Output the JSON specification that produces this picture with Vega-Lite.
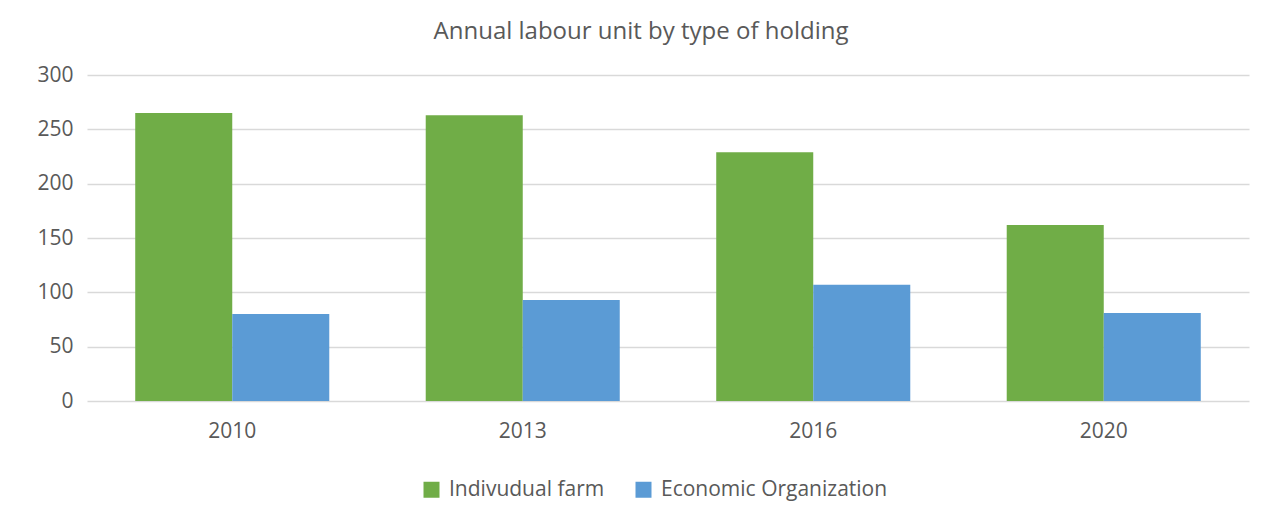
{
  "$schema": "https://vega.github.io/schema/vega-lite/v6.json",
  "autosize": {"type": "none"},
  "width": 1162,
  "height": 326,
  "padding": {"left": 87, "top": 75, "right": 15, "bottom": 121},
  "background": "white",
  "title": {
    "text": "Annual labour unit by type of holding",
    "font": "Open Sans",
    "fontSize": 24,
    "fontWeight": "normal",
    "color": "#595959",
    "anchor": "middle",
    "frame": "group",
    "dx": -27,
    "offset": 20
  },
  "data": {
    "values": [
      {"year": "2010", "type": "Indivudual farm", "value": 265},
      {"year": "2010", "type": "Economic Organization", "value": 80},
      {"year": "2013", "type": "Indivudual farm", "value": 263},
      {"year": "2013", "type": "Economic Organization", "value": 93},
      {"year": "2016", "type": "Indivudual farm", "value": 229},
      {"year": "2016", "type": "Economic Organization", "value": 107},
      {"year": "2020", "type": "Indivudual farm", "value": 162},
      {"year": "2020", "type": "Economic Organization", "value": 81}
    ]
  },
  "mark": {"type": "bar"},
  "encoding": {
    "x": {
      "field": "year",
      "type": "nominal",
      "title": null,
      "scale": {"paddingInner": 0.332, "paddingOuter": 0.166},
      "axis": {
        "labelAngle": 0,
        "labelFont": "Open Sans",
        "labelFontSize": 21,
        "labelColor": "#595959",
        "labelPadding": 19,
        "ticks": false,
        "domain": false,
        "grid": false
      }
    },
    "xOffset": {
      "field": "type",
      "type": "nominal",
      "sort": ["Indivudual farm", "Economic Organization"],
      "scale": {"paddingInner": 0, "paddingOuter": 0}
    },
    "y": {
      "field": "value",
      "type": "quantitative",
      "title": null,
      "scale": {"domain": [0, 300], "nice": false},
      "axis": {
        "values": [0, 50, 100, 150, 200, 250, 300],
        "labelFont": "Open Sans",
        "labelFontSize": 21,
        "labelColor": "#595959",
        "labelPadding": 14,
        "ticks": false,
        "domain": false,
        "grid": true,
        "gridColor": "#d9d9d9",
        "gridWidth": 1.5
      }
    },
    "color": {
      "field": "type",
      "type": "nominal",
      "sort": ["Indivudual farm", "Economic Organization"],
      "scale": {
        "domain": ["Indivudual farm", "Economic Organization"],
        "range": ["#70AD47", "#5B9BD5"]
      },
      "legend": {
        "title": null,
        "orient": "none",
        "direction": "horizontal",
        "legendX": 334,
        "legendY": 404,
        "padding": 0,
        "symbolType": "square",
        "symbolSize": 256,
        "symbolStrokeWidth": 0,
        "symbolOpacity": 1,
        "labelFont": "Open Sans",
        "labelFontSize": 21,
        "labelColor": "#595959",
        "labelOffset": 7,
        "columnPadding": 28,
        "labelLimit": 400
      }
    }
  },
  "config": {
    "view": {"stroke": null}
  }
}
